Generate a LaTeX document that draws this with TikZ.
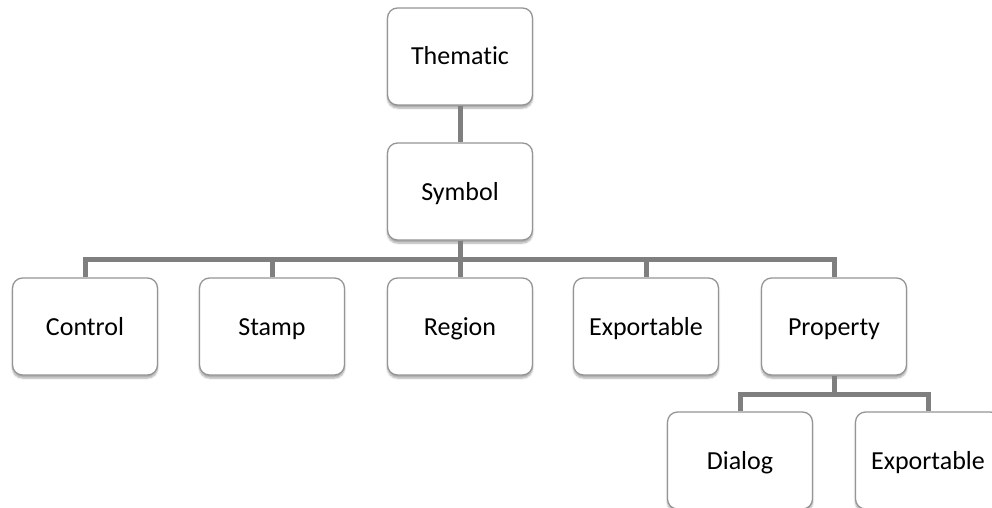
\documentclass[tikz,border=0pt]{standalone}
\usepackage{fontspec}
\setmainfont[Ligatures={NoCommon}]{Carlito}
\usetikzlibrary{shadows.blur}
\definecolor{conncol}{HTML}{7F7F7F}
\definecolor{boxline}{HTML}{959595}
\tikzset{
  box/.style={draw=boxline, line width=1.3pt, fill=white, rounded corners=10pt,
    minimum width=145pt, minimum height=97pt, inner sep=0pt,
    text height=20pt, text depth=3pt,
    font=\fontsize{26}{30}\selectfont,
    blur shadow={shadow xshift=0pt, shadow yshift=-3pt, shadow blur steps=6, shadow opacity=35}},
  conn/.style={draw=conncol, line width=5pt, line join=miter}
}
\begin{document}
\begin{tikzpicture}[x=1pt,y=-1pt]
\useasboundingbox (0,0) rectangle (992,508);
\node[box] (th) at (460,56.5) {Thematic};
\node[box] (sy) at (460,191.5) {Symbol};
\node[box] (co) at (85,326.5) {Control};
\node[box] (st) at (272,326.5) {Stamp};
\node[box] (re) at (460,326.5) {Region};
\node[box] (ex) at (646,326.5) {Exportable};
\node[box] (pr) at (834,326.5) {Property};
\node[box] (di) at (740,460.5) {Dialog};
\node[box] (ex2) at (928,460.5) {Exportable};
\draw[conn] (th.south) -- (sy.north);
\foreach \c in {co,st,re,ex,pr}{
  \draw[conn] (sy.south) -- ++(0,19) -| (\c.north);
}
\foreach \c in {di,ex2}{
  \draw[conn] (pr.south) -- ++(0,19) -| (\c.north);
}
\end{tikzpicture}
\end{document}
